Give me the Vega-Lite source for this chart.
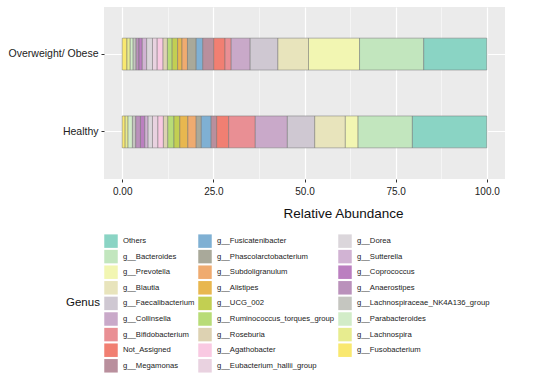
{
  "$schema": "https://vega.github.io/schema/vega-lite/v6.json",
  "autosize": {"type": "none"},
  "padding": {"left": 104, "top": 7, "right": 45, "bottom": 210},
  "width": 401,
  "height": 172,
  "background": "white",
  "config": {
    "font": "Liberation Sans, Arial, sans-serif",
    "view": {"fill": "#ebebeb", "stroke": null}
  },
  "data": {"values": [
    {"Group": "Overweight/ Obese", "Genus": "g__Fusobacterium", "ord": 1, "Abundance": 1.3},
    {"Group": "Overweight/ Obese", "Genus": "g__Lachnospira", "ord": 2, "Abundance": 0.9},
    {"Group": "Overweight/ Obese", "Genus": "g__Parabacteroides", "ord": 3, "Abundance": 0.8},
    {"Group": "Overweight/ Obese", "Genus": "g__Lachnospiraceae_NK4A136_group", "ord": 4, "Abundance": 0.8},
    {"Group": "Overweight/ Obese", "Genus": "g__Anaerostipes", "ord": 5, "Abundance": 0.8},
    {"Group": "Overweight/ Obese", "Genus": "g__Coprococcus", "ord": 6, "Abundance": 0.9},
    {"Group": "Overweight/ Obese", "Genus": "g__Sutterella", "ord": 7, "Abundance": 1.2},
    {"Group": "Overweight/ Obese", "Genus": "g__Dorea", "ord": 8, "Abundance": 1.6},
    {"Group": "Overweight/ Obese", "Genus": "g__Eubacterium_hallii_group", "ord": 9, "Abundance": 1.3},
    {"Group": "Overweight/ Obese", "Genus": "g__Agathobacter", "ord": 10, "Abundance": 1.6},
    {"Group": "Overweight/ Obese", "Genus": "g__Roseburia", "ord": 11, "Abundance": 1.2},
    {"Group": "Overweight/ Obese", "Genus": "g__Ruminococcus_torques_group", "ord": 12, "Abundance": 1.3},
    {"Group": "Overweight/ Obese", "Genus": "g__UCG_002", "ord": 13, "Abundance": 1.5},
    {"Group": "Overweight/ Obese", "Genus": "g__Alistipes", "ord": 14, "Abundance": 1.2},
    {"Group": "Overweight/ Obese", "Genus": "g__Subdoligranulum", "ord": 15, "Abundance": 1.5},
    {"Group": "Overweight/ Obese", "Genus": "g__Phascolarctobacterium", "ord": 16, "Abundance": 2.4},
    {"Group": "Overweight/ Obese", "Genus": "g__Fusicatenibacter", "ord": 17, "Abundance": 1.8},
    {"Group": "Overweight/ Obese", "Genus": "g__Megamonas", "ord": 18, "Abundance": 3.0},
    {"Group": "Overweight/ Obese", "Genus": "Not_Assigned", "ord": 19, "Abundance": 3.1},
    {"Group": "Overweight/ Obese", "Genus": "g__Bifidobacterium", "ord": 20, "Abundance": 1.7},
    {"Group": "Overweight/ Obese", "Genus": "g__Collinsella", "ord": 21, "Abundance": 5.2},
    {"Group": "Overweight/ Obese", "Genus": "g__Faecalibacterium", "ord": 22, "Abundance": 7.6},
    {"Group": "Overweight/ Obese", "Genus": "g__Blautia", "ord": 23, "Abundance": 8.4},
    {"Group": "Overweight/ Obese", "Genus": "g__Prevotella", "ord": 24, "Abundance": 14.0},
    {"Group": "Overweight/ Obese", "Genus": "g__Bacteroides", "ord": 25, "Abundance": 17.6},
    {"Group": "Overweight/ Obese", "Genus": "Others", "ord": 26, "Abundance": 17.3},
    {"Group": "Healthy", "Genus": "g__Fusobacterium", "ord": 1, "Abundance": 0.8},
    {"Group": "Healthy", "Genus": "g__Lachnospira", "ord": 2, "Abundance": 0.8},
    {"Group": "Healthy", "Genus": "g__Parabacteroides", "ord": 3, "Abundance": 1.2},
    {"Group": "Healthy", "Genus": "g__Lachnospiraceae_NK4A136_group", "ord": 4, "Abundance": 0.9},
    {"Group": "Healthy", "Genus": "g__Anaerostipes", "ord": 5, "Abundance": 1.3},
    {"Group": "Healthy", "Genus": "g__Coprococcus", "ord": 6, "Abundance": 1.2},
    {"Group": "Healthy", "Genus": "g__Sutterella", "ord": 7, "Abundance": 0.9},
    {"Group": "Healthy", "Genus": "g__Dorea", "ord": 8, "Abundance": 1.2},
    {"Group": "Healthy", "Genus": "g__Eubacterium_hallii_group", "ord": 9, "Abundance": 1.5},
    {"Group": "Healthy", "Genus": "g__Agathobacter", "ord": 10, "Abundance": 1.5},
    {"Group": "Healthy", "Genus": "g__Roseburia", "ord": 11, "Abundance": 1.2},
    {"Group": "Healthy", "Genus": "g__Ruminococcus_torques_group", "ord": 12, "Abundance": 1.7},
    {"Group": "Healthy", "Genus": "g__UCG_002", "ord": 13, "Abundance": 1.6},
    {"Group": "Healthy", "Genus": "g__Alistipes", "ord": 14, "Abundance": 2.2},
    {"Group": "Healthy", "Genus": "g__Subdoligranulum", "ord": 15, "Abundance": 2.3},
    {"Group": "Healthy", "Genus": "g__Phascolarctobacterium", "ord": 16, "Abundance": 1.4},
    {"Group": "Healthy", "Genus": "g__Fusicatenibacter", "ord": 17, "Abundance": 2.7},
    {"Group": "Healthy", "Genus": "g__Megamonas", "ord": 18, "Abundance": 1.5},
    {"Group": "Healthy", "Genus": "Not_Assigned", "ord": 19, "Abundance": 3.3},
    {"Group": "Healthy", "Genus": "g__Bifidobacterium", "ord": 20, "Abundance": 7.3},
    {"Group": "Healthy", "Genus": "g__Collinsella", "ord": 21, "Abundance": 8.8},
    {"Group": "Healthy", "Genus": "g__Faecalibacterium", "ord": 22, "Abundance": 7.5},
    {"Group": "Healthy", "Genus": "g__Blautia", "ord": 23, "Abundance": 8.4},
    {"Group": "Healthy", "Genus": "g__Prevotella", "ord": 24, "Abundance": 3.5},
    {"Group": "Healthy", "Genus": "g__Bacteroides", "ord": 25, "Abundance": 14.9},
    {"Group": "Healthy", "Genus": "Others", "ord": 26, "Abundance": 20.4}
  ]},
  "mark": {"type": "bar", "stroke": "#6f6f6f", "strokeWidth": 0.6, "strokeOpacity": 0.8},
  "encoding": {
    "y": {
      "field": "Group", "type": "nominal",
      "sort": ["Overweight/ Obese", "Healthy"],
      "scale": {"paddingInner": 0.59, "paddingOuter": 0.4},
      "axis": {
        "title": null, "domain": false, "grid": true, "bandPosition": 0.5,
        "gridColor": "white", "gridWidth": 1.2,
        "tickColor": "#333333", "tickSize": 3, "tickWidth": 1,
        "labelFontSize": 10.5, "labelColor": "#222222", "labelPadding": 3
      }
    },
    "x": {
      "field": "Abundance", "type": "quantitative", "stack": "zero",
      "scale": {"domain": [-5, 105], "nice": false, "zero": false},
      "axis": {
        "title": "Relative Abundance", "titleFontSize": 13.5, "titleFontWeight": "normal",
        "titleColor": "#111111", "titleX": 239, "titlePadding": 10,
        "values": [0, 12.5, 25, 37.5, 50, 62.5, 75, 87.5, 100],
        "labelExpr": "datum.value % 25 != 0 ? '' : (datum.value == 0 ? '0.00' : format(datum.value, '.1f'))",
        "labelFontSize": 10, "labelColor": "#222222", "labelPadding": 4,
        "domain": false, "grid": true, "gridColor": "white",
        "gridWidth": {"condition": {"test": "datum.value % 25 == 0", "value": 1.2}, "value": 0.5},
        "tickColor": "#333333", "tickSize": 3,
        "tickOpacity": {"condition": {"test": "datum.value % 25 == 0", "value": 1}, "value": 0}
      }
    },
    "order": {"field": "ord", "type": "quantitative", "sort": "ascending"},
    "color": {
      "field": "Genus", "type": "nominal",
      "scale": {
        "domain": ["Others", "g__Bacteroides", "g__Prevotella", "g__Blautia",
                   "g__Faecalibacterium", "g__Collinsella", "g__Bifidobacterium",
                   "Not_Assigned", "g__Megamonas",
                   "g__Fusicatenibacter", "g__Phascolarctobacterium", "g__Subdoligranulum",
                   "g__Alistipes", "g__UCG_002", "g__Ruminococcus_torques_group",
                   "g__Roseburia", "g__Agathobacter", "g__Eubacterium_hallii_group",
                   "g__Dorea", "g__Sutterella", "g__Coprococcus", "g__Anaerostipes",
                   "g__Lachnospiraceae_NK4A136_group", "g__Parabacteroides",
                   "g__Lachnospira", "g__Fusobacterium"],
        "range": ["#8ad4c4", "#c2e6be", "#f2f6b2", "#e8e4bc",
                  "#cfc8d2", "#c9a9c9", "#e98f94",
                  "#f17f72", "#b98f9d",
                  "#7fb0d3", "#a9a99a", "#efab70",
                  "#e8b74f", "#c2cf52", "#b8dc77",
                  "#ddd2b2", "#f9c9e2", "#e9d2e0",
                  "#dbd6db", "#d1b3d3", "#bb7fc0", "#ba91bb",
                  "#c5c6c0", "#d2ecc8",
                  "#e7ec8f", "#f9e86f"]
      },
      "legend": {
        "title": "Genus", "orient": "none", "legendX": -38, "legendY": 227,
        "columns": 3, "direction": "vertical",
        "titleOrient": "left", "titleAnchor": "middle", "titleBaseline": "middle",
        "titleFontSize": 11.5, "titleFontWeight": "normal", "titleColor": "#111111", "titlePadding": 4,
        "symbolType": "square", "symbolSize": 182, "symbolStrokeWidth": 0, "symbolOpacity": 1,
        "labelFontSize": 7.7, "labelColor": "#222222", "labelOffset": 5, "labelLimit": 300,
        "rowPadding": 1.6, "columnPadding": 3
      }
    }
  }
}
